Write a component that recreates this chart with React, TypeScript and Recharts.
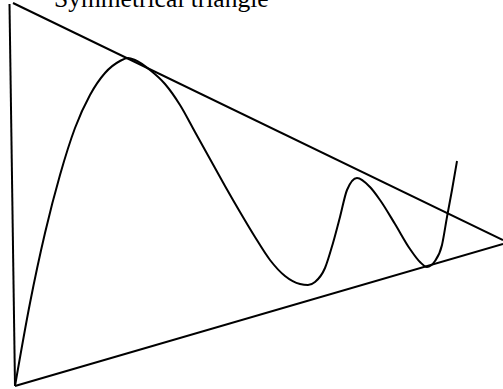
import { LineChart, Line, XAxis, YAxis } from "recharts";

// all points in picture units: x to the right, y measured up from the bottom edge (389 tall)
const W = 503;
const H = 389;

const leftEdge = [
  { x: 9.5, y: 385 },
  { x: 15, y: 3 },
];

const upperTrend = [
  { x: 13, y: 386 },
  { x: 503, y: 149 },
];

const lowerTrend = [
  { x: 15, y: 3 },
  { x: 503, y: 145 },
];

const priceX = [
  15, 30, 45, 60, 75, 90, 105, 120, 128, 135, 150, 165, 180, 195, 210, 225, 240, 255,
  270, 285, 300, 308, 315, 325, 333, 340, 347, 357, 370, 380, 395, 410, 420, 427, 435,
  442, 447, 452, 457,
];
const priceY = [
  3, 86, 156, 214, 261, 294, 316, 328, 331, 329, 319, 305, 284, 257, 230, 203, 177, 152,
  129, 113, 105, 104, 107, 121, 146, 172, 199, 211, 202, 189, 165, 140, 127, 122, 128,
  144, 172, 199, 228,
];

const price = priceX.map((x, i) => ({ x, y: priceY[i] }));

const lineProps = {
  dataKey: "y",
  stroke: "#000",
  strokeWidth: 2,
  dot: false,
  activeDot: false,
  isAnimationActive: false,
} as const;

export default function App() {
  return (
    <div style={{ position: "absolute", left: 0, top: 0, width: W, height: H, background: "#fff", overflow: "hidden" }}>
      <LineChart width={W} height={H} margin={{ top: 0, right: 0, bottom: 0, left: 0 }}>
        <XAxis dataKey="x" type="number" domain={[0, W]} hide allowDataOverflow />
        <YAxis dataKey="y" type="number" domain={[0, H]} hide allowDataOverflow />
        <Line {...lineProps} data={leftEdge} type="linear" />
        <Line {...lineProps} data={upperTrend} type="linear" />
        <Line {...lineProps} data={lowerTrend} type="linear" />
        <Line {...lineProps} data={price} type="monotone" />
      </LineChart>
      <div
        style={{
          position: "absolute",
          left: 54,
          top: -14.5,
          fontFamily: "'Liberation Serif', 'Times New Roman', serif",
          fontSize: 25.5,
          lineHeight: "25.5px",
          color: "#000",
          whiteSpace: "nowrap",
        }}
      >
        Symmetrical triangle
      </div>
    </div>
  );
}
